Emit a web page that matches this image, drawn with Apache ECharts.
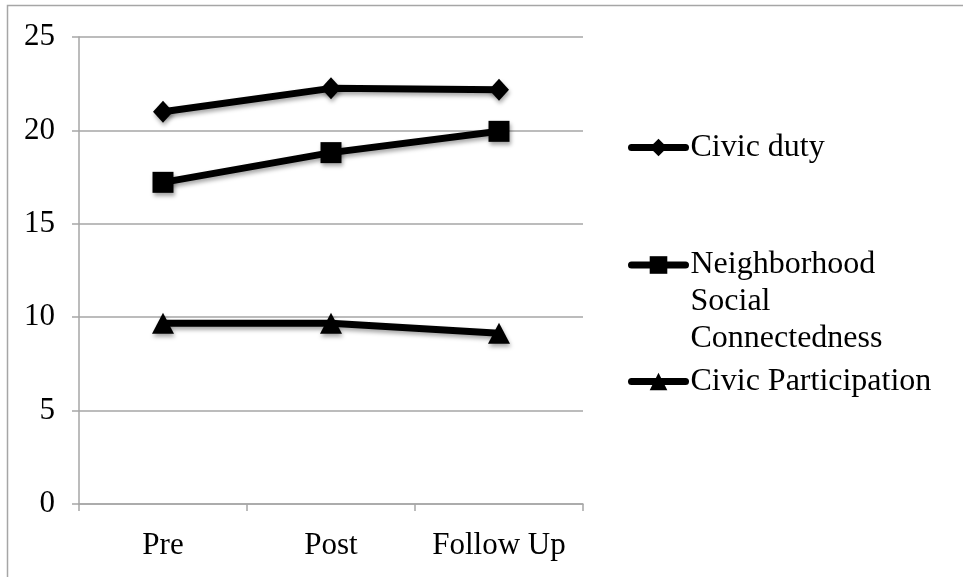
<!DOCTYPE html>
<html>
<head>
<meta charset="utf-8">
<script src="https://cdn.jsdelivr.net/npm/echarts@6/dist/echarts.min.js"></script>
<style>
html,body{margin:0;padding:0;background:#fff;}
#chart{width:963px;height:577px;}
</style>
</head>
<body>
<div id="chart"></div>
<script>
var categories = ['Pre', 'Post', 'Follow Up'];
var civicDuty = [21.0, 22.25, 22.18];
var neighborhoodSocial = [17.22, 18.81, 19.95];
var civicParticipation = [9.67, 9.67, 9.14];
var yTicks = [0, 5, 10, 15, 20, 25];

var FONT = 'Liberation Serif';
var GRAY = '#a6a6a6';
var shadow = { shadowColor: 'rgba(0,0,0,0.35)', shadowBlur: 4, shadowOffsetX: 1, shadowOffsetY: 3 };

function mkSeries(name, data, symbol, size) {
  return {
    name: name, type: 'line', data: data,
    symbol: symbol, symbolSize: size,
    lineStyle: Object.assign({ color: '#000', width: 7 }, shadow),
    itemStyle: Object.assign({ color: '#000' }, shadow),
    emphasis: { disabled: true },
    z: 3
  };
}

function mkLegend(name, top, text) {
  return {
    data: [name], left: 628, top: top, padding: 0,
    orient: 'vertical', itemWidth: 54, itemHeight: 22, itemGap: 0,
    formatter: function () { return text; },
    selectedMode: false,
    lineStyle: { color: '#000', width: 7, cap: 'round', shadowBlur: 0, shadowOffsetX: 0, shadowOffsetY: 0 },
    itemStyle: { color: '#000', shadowBlur: 0, shadowOffsetX: 0, shadowOffsetY: 0 },
    textStyle: { fontFamily: FONT, fontSize: 32, color: '#000', lineHeight: 37 }
  };
}

var chart = echarts.init(document.getElementById('chart'), null, { renderer: 'canvas' });
chart.setOption({
  animation: false,
  backgroundColor: '#fff',
  textStyle: { fontFamily: FONT },
  graphic: [{
    type: 'rect', left: 5, top: 3, silent: true, z: -10,
    shape: { x: 0, y: 0, width: 1000, height: 1000 },
    style: { fill: 'none', stroke: GRAY, lineWidth: 1.5 }
  }],
  grid: { left: 79, right: 380, top: 37, bottom: 73 },
  legend: [
    mkLegend('Civic duty', 129, 'Civic duty'),
    mkLegend('Neighborhood Social Connectedness', 265 - 92.5, '\n\nNeighborhood\nSocial\nConnectedness'),
    mkLegend('Civic Participation', 363, 'Civic Participation')
  ],
  xAxis: {
    type: 'category', data: categories, boundaryGap: true,
    axisLine: { show: true, lineStyle: { color: GRAY, width: 1.5 } },
    axisTick: { show: true, length: 7, inside: false, lineStyle: { color: GRAY, width: 1.5 } },
    axisLabel: { fontFamily: FONT, fontSize: 31, color: '#000', margin: 26, interval: 0, hideOverlap: false },
    splitLine: { show: false }
  },
  yAxis: {
    type: 'value', min: yTicks[0], max: yTicks[yTicks.length - 1], interval: yTicks[1] - yTicks[0],
    axisLine: { show: true, lineStyle: { color: GRAY, width: 1.5 } },
    axisTick: { show: true, length: 7, inside: false, lineStyle: { color: GRAY, width: 1.5 } },
    axisLabel: { fontFamily: FONT, fontSize: 31, color: '#000', margin: 24 },
    splitLine: { show: true, lineStyle: { color: GRAY, width: 1.5 } }
  },
  series: [
    mkSeries('Civic duty', civicDuty, 'diamond', [20, 22]),
    mkSeries('Neighborhood Social Connectedness', neighborhoodSocial, 'rect', [21, 21]),
    mkSeries('Civic Participation', civicParticipation, 'triangle', [22, 21])
  ]
});
</script>
</body>
</html>
